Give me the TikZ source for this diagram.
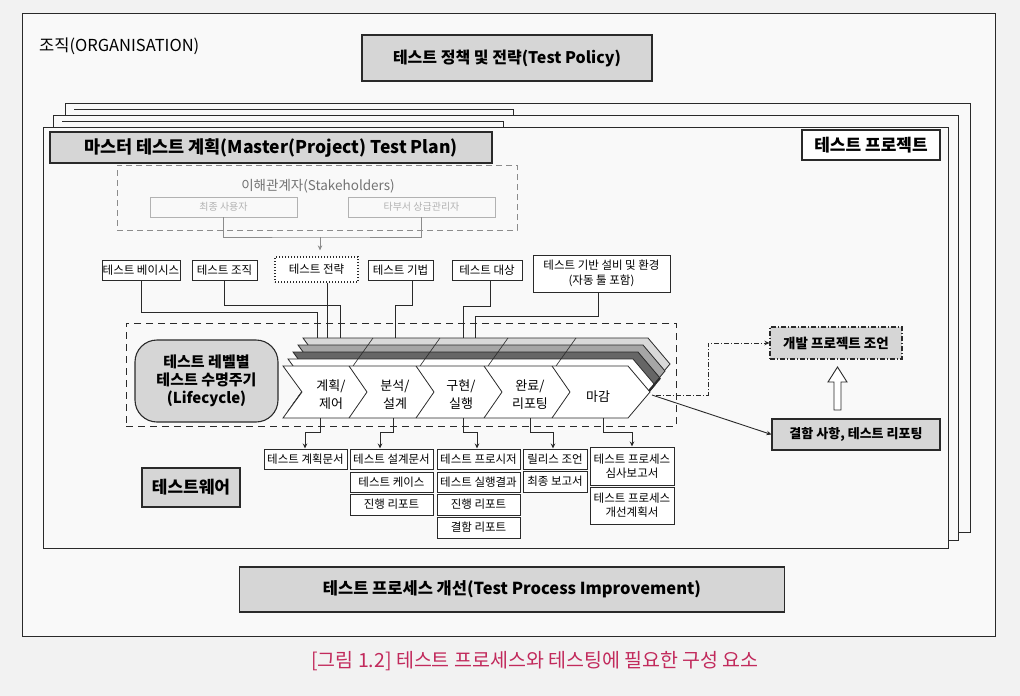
\documentclass[tikz,border=0pt]{standalone}
\usepackage{fontspec}
\setmainfont{Noto Sans CJK KR}
\usetikzlibrary{arrows.meta,calc}
\definecolor{pagebg}{HTML}{F2F2F2}
\definecolor{framebg}{HTML}{F9F9F9}
\definecolor{boxgray}{HTML}{D6D6D6}
\definecolor{ink}{HTML}{2A2A2A}
\definecolor{captionred}{HTML}{C22A5C}
\tikzset{
  frm/.style={draw=ink, line width=0.9pt, fill=framebg},
  gbox/.style={draw=ink, line width=1.1pt, fill=boxgray, inner sep=0pt, align=center},
  wbox/.style={draw=ink, line width=1pt, fill=white, inner sep=0pt, align=center, font=\fontsize{11.5}{13.5}\selectfont},
  conn/.style={draw=ink, line width=0.9pt},
  arr/.style={conn, -{Stealth[length=5pt,width=4.5pt]}},
  chev/.style={draw=ink, line width=0.8pt},
  lbl/.style={align=center, font=\fontsize{13}{18}\selectfont, inner sep=0pt},
  dashdot/.style={dash pattern=on 5pt off 2pt on 1pt off 2pt},
}
\begin{document}
\begin{tikzpicture}[x=1pt,y=-1pt]
\useasboundingbox (0,0) rectangle (1020,696);
\fill[pagebg] (0,0) rectangle (1020,696);
% organisation frame
\draw[frm] (22,13) rectangle (995,636);
\node[anchor=west, font=\fontsize{16.5}{18}\selectfont, inner sep=0pt] (org) at (39,46) {조직(ORGANISATION)};
\node[gbox, minimum width=290pt, minimum height=46pt, font=\bfseries\fontsize{16}{18}\selectfont] (policy) at (507,58) {테스트 정책 및 전략(Test Policy)};
% stacked project frames
\draw[frm] (65,103) rectangle (970,532);
\draw[conn, line width=0.6pt] (74,109) -- (513,109) -- (513,115);
\draw[frm] (53,115) rectangle (958,540);
\draw[conn, line width=0.6pt] (62,121) -- (503,121) -- (503,127);
\draw[frm] (43,127) rectangle (948,548);
\node[gbox, minimum width=442pt, minimum height=31pt, font=\bfseries\fontsize{17.5}{19}\selectfont] (master) at (271,147.5) {마스터 테스트 계획(Master(Project) Test Plan)};
\node[gbox, fill=white, minimum width=138pt, minimum height=30pt, font=\bfseries\fontsize{17}{19}\selectfont] (proj) at (871,145) {테스트 프로젝트};
% stakeholders
\node[draw=black!45, line width=0.8pt, dash pattern=on 6pt off 4pt, minimum width=400pt, minimum height=65pt] (stake) at (317,197.5) {};
\node[text=black!55, font=\fontsize{13.5}{15}\selectfont, inner sep=0pt] (staketitle) at (318,186) {이해관계자(Stakeholders)};
\node[draw=black!30, line width=0.7pt, minimum width=147pt, minimum height=20pt, text=black!30, font=\fontsize{10}{11}\selectfont, inner sep=0pt] (user) at (223.5,207) {최종 사용자};
\node[draw=black!30, line width=0.7pt, minimum width=147pt, minimum height=20pt, text=black!30, font=\fontsize{10}{11}\selectfont, inner sep=0pt] (mgr) at (421.5,207) {타부서 상급관리자};
\coordinate (sj) at (320,237);
\draw[draw=black!45, line width=0.7pt] (user.south) |- (sj) -| (mgr.south);
% row of boxes
\node[wbox, minimum width=78pt, minimum height=20pt] (basis) at (141,270) {테스트 베이시스};
\node[wbox, minimum width=65pt, minimum height=20pt] (torg) at (224.5,270) {테스트 조직};
\node[wbox, draw=ink, dotted, line width=1.2pt, minimum width=83pt, minimum height=25pt] (strat) at (316.5,269.5) {};
\node[font=\fontsize{11.5}{13.5}\selectfont, inner sep=0pt] (strattxt) at (316.5,269.5) {테스트 전략};
\node[wbox, minimum width=65pt, minimum height=20pt] (tech) at (400.5,270) {테스트 기법};
\node[wbox, minimum width=70pt, minimum height=20pt] (tgt) at (487,270) {테스트 대상};
\node[wbox, minimum width=137pt, minimum height=37pt, font=\fontsize{11.5}{15}\selectfont] (env) at (601.5,273.5) {테스트 기반 설비 및 환경\\(자동 툴 포함)};
\draw[arr, draw=black!45, shorten >=6pt] (sj) -- (sj |- strat.north);
% lifecycle area
\node[draw=ink, line width=0.8pt, dash pattern=on 7pt off 5pt, minimum width=550pt, minimum height=103pt] (lcbox) at (401,374.5) {};
\node[draw=ink, line width=1.1pt, fill=boxgray, rounded corners=22pt, minimum width=143pt, minimum height=82pt, align=center, font=\bfseries\fontsize{15}{18}\selectfont] (lc) at (206.5,381) {테스트 레벨별\\테스트 수명주기\\(Lifecycle)};
% stacked chevron layers
\def\chevpath{(283,366) -- (628,366) -- (650,392) -- (628,418) -- (283,418) -- (302,392) -- cycle}
\foreach \k/\c in {4/black!15,3/black!35,2/black!60,1/white}{
  \begin{scope}[shift={(5*\k,-7*\k)}]
    \draw[chev, fill=\c] \chevpath;
    \foreach \xd in {349,416,484,552}{
      \draw[ink, line width=0.6pt] (\xd+4,366) -- (\xd-1,373);
    }
  \end{scope}
}
\draw[ink, line width=2.2pt] (660,378) -- (637,405);
\draw[chev, fill=white] \chevpath;
\foreach \xd in {349,416,484,552}{
  \draw[chev] (\xd,366) -- (\xd+18,392) -- (\xd,418);
}
\node[lbl] (ph1) at (331,395) {계획/\\제어};
\node[lbl] (ph2) at (395,395) {분석/\\설계};
\node[lbl] (ph3) at (461,395) {구현/\\실행};
\node[lbl] (ph4) at (530,395) {완료/\\리포팅};
\node[lbl] (ph5) at (598,397) {마감};
% connector ends on the strip
\coordinate (s1) at (317,338);
\coordinate (s2) at (340,338);
\coordinate (s3) at (327,338);
\coordinate (s4) at (395,338);
\coordinate (s5) at (463,338);
\coordinate (s6) at (475,338);
\draw[conn] (basis.south) -- ++(0,32) -| (s1);
\draw[conn] (torg.south) -- ++(0,25) -| (s2);
\draw[conn] ([xshift=10.5pt]strat.south) -- (s3);
\draw[conn] ([xshift=11.5pt]tech.south) -- ++(0,25) -| (s4);
\draw[conn] ([xshift=3pt]tgt.south) -- ++(0,26) -| (s5);
\draw[conn] ([xshift=-3.5pt]env.south) -- ++(0,24) -| (s6);
% testware boxes
\node[wbox, minimum width=83pt, minimum height=20pt] (d1) at (305.5,459) {테스트 계획문서};
\node[wbox, minimum width=83pt, minimum height=20pt] (d2) at (391.5,459) {테스트 설계문서};
\node[wbox, minimum width=83pt, minimum height=20pt] (d2b) at (391.5,482) {테스트 케이스};
\node[wbox, minimum width=83pt, minimum height=21pt] (d2c) at (391.5,504.5) {진행 리포트};
\node[wbox, minimum width=83pt, minimum height=20pt] (d3) at (478.5,459) {테스트 프로시저};
\node[wbox, minimum width=83pt, minimum height=20pt] (d3b) at (478.5,482) {테스트 실행결과};
\node[wbox, minimum width=83pt, minimum height=21pt] (d3c) at (478.5,504.5) {진행 리포트};
\node[wbox, minimum width=83pt, minimum height=21pt] (d3d) at (478.5,527.5) {결함 리포트};
\node[wbox, minimum width=64pt, minimum height=20pt] (d4) at (555,459) {릴리스 조언};
\node[wbox, minimum width=64pt, minimum height=21pt] (d4b) at (555,481.5) {최종 보고서};
\node[wbox, minimum width=84pt, minimum height=38pt, font=\fontsize{11.5}{14}\selectfont] (d5) at (632,466) {테스트 프로세스\\심사보고서};
\node[wbox, minimum width=84pt, minimum height=37pt, font=\fontsize{11.5}{14}\selectfont] (d5b) at (632,505.5) {테스트 프로세스\\개선계획서};
\coordinate (c1) at (320,418);
\coordinate (c2) at (393,418);
\coordinate (c3) at (463,418);
\coordinate (c4) at (530,418);
\coordinate (c5) at (603,418);
\draw[arr] (c1) -- ++(0,14) -| ([xshift=-0.5pt]d1.north);
\draw[arr] (c2) -- ++(0,14) -| ([xshift=-11.5pt]d2.north);
\draw[arr] (c3) -- ++(0,14) -| ([xshift=-1.5pt]d3.north);
\draw[arr] (c4) -- ++(0,14) -| ([xshift=-2pt]d4.north);
\draw[arr] (c5) -- ++(0,14) -| (d5.north);
\node[gbox, minimum width=98pt, minimum height=39pt, font=\bfseries\fontsize{17}{19}\selectfont] (tw) at (191,487.5) {테스트웨어};
% right side
\node[gbox, dashdot, minimum width=132pt, minimum height=32pt, font=\bfseries\fontsize{13.5}{15}\selectfont] (adv) at (836,343) {개발 프로젝트 조언};
\node[gbox, minimum width=168pt, minimum height=31pt, font=\bfseries\fontsize{13}{15}\selectfont] (res) at (856,434.5) {결함 사항, 테스트 리포팅};
\draw[draw=ink, line width=0.9pt, fill=white] (834,410) -- (834,382) -- (828,382) -- (837.5,367) -- (847,382) -- (841,382) -- (841,410) -- cycle;
\coordinate (tipA) at (656,395);
\coordinate (tipB) at (652,395);
\draw[arr, dashdot] (tipA) -- (708,395) |- (adv.west);
\draw[arr] (tipB) -- (res.west);
% process improvement
\node[gbox, minimum width=545pt, minimum height=45pt, font=\bfseries\fontsize{16.5}{18}\selectfont] (tpi) at (512,589.5) {테스트 프로세스 개선(Test Process Improvement)};
\node[text=captionred, font=\fontsize{19.5}{22}\selectfont, inner sep=0pt] (cap) at (535,661) {[그림 1.2] 테스트 프로세스와 테스팅에 필요한 구성 요소};
\end{tikzpicture}
\end{document}
